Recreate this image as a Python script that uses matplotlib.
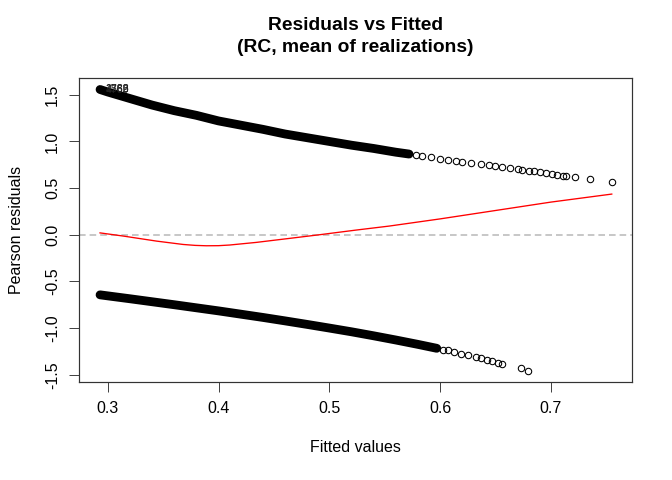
import numpy as np
import matplotlib.pyplot as plt

plt.rcParams['font.family'] = ['Liberation Sans', 'DejaVu Sans']

# upper branch (y = 1), dense run of points
upper_fit = [0.293, 0.30, 0.32, 0.34, 0.36, 0.38, 0.40, 0.42, 0.44, 0.46,
             0.48, 0.50, 0.52, 0.54, 0.56, 0.572]
upper_res = [1.557, 1.53, 1.46, 1.39, 1.33, 1.28, 1.22, 1.175, 1.13, 1.08,
             1.04, 1.00, 0.96, 0.925, 0.885, 0.865]
# upper branch, separate circles
upper_tail_fit = [0.578, 0.584, 0.592, 0.600, 0.607, 0.614, 0.620, 0.628, 0.637,
                  0.644, 0.650, 0.656, 0.663, 0.670, 0.674, 0.680, 0.685,
                  0.690, 0.696, 0.701, 0.706, 0.711, 0.714, 0.722, 0.735, 0.755]
upper_tail_res = [0.855, 0.845, 0.83, 0.815, 0.805, 0.79, 0.78, 0.77, 0.755,
                  0.745, 0.735, 0.725, 0.715, 0.70, 0.695, 0.685, 0.68,
                  0.67, 0.66, 0.655, 0.645, 0.635, 0.63, 0.62, 0.60, 0.57]

# lower branch (y = 0), dense run
lower_fit = [0.293, 0.30, 0.32, 0.34, 0.36, 0.38, 0.40, 0.42, 0.44, 0.46,
             0.48, 0.50, 0.52, 0.54, 0.56, 0.58, 0.597]
lower_res = [-0.644, -0.655, -0.686, -0.718, -0.75, -0.783, -0.816, -0.851,
             -0.886, -0.923, -0.961, -1.00, -1.04, -1.083, -1.128, -1.175, -1.217]
# lower branch, separate circles
lower_tail_fit = [0.603, 0.607, 0.613, 0.619, 0.625, 0.632, 0.637, 0.642, 0.647,
                  0.652, 0.656, 0.673, 0.679]
lower_tail_res = [-1.23, -1.24, -1.26, -1.275, -1.29, -1.31, -1.325, -1.34, -1.355,
                  -1.37, -1.38, -1.43, -1.455]

# red smoother
smooth_fit = [0.293, 0.314, 0.344, 0.368, 0.379, 0.389, 0.400, 0.410, 0.434,
              0.464, 0.491, 0.524, 0.554, 0.60, 0.65, 0.70, 0.755]
smooth_res = [0.02, -0.014, -0.068, -0.104, -0.114, -0.118, -0.117, -0.11,
              -0.082, -0.039, 0.0, 0.05, 0.093, 0.17, 0.26, 0.35, 0.436]

# labelled extreme points
label_ids = ["1762", "4769", "2588"]
label_fit = [0.293, 0.293, 0.293]
label_res = [1.557, 1.556, 1.557]

fig = plt.figure(figsize=(7, 5), dpi=96)
ax = fig.add_axes([79 / 672, 1 - 381.7 / 480, 552.7 / 672, 303.4 / 480])

ax.axhline(0, color='#c8c8c8', lw=1.5, dashes=(3.3, 2), zorder=1)

for xs, ys in [(upper_fit, upper_res), (lower_fit, lower_res)]:
    ax.plot(xs, ys, color='black', lw=6.6, solid_capstyle='round',
            solid_joinstyle='round', zorder=2)
for xs, ys in [(upper_tail_fit, upper_tail_res), (lower_tail_fit, lower_tail_res)]:
    ax.plot(xs, ys, 'o', mfc='none', mec='black', ms=4.8, mew=0.8, zorder=2)

ax.plot(smooth_fit, smooth_res, color='red', lw=1.0, zorder=3)

for lab, xf, yr in zip(label_ids, label_fit, label_res):
    ax.annotate(lab, (xf, yr), xytext=(4, 0), textcoords='offset points',
                fontsize=8, va='center', ha='left', color='#222222')

ax.set_xlim(0.274, 0.773)
ax.set_ylim(-1.575, 1.677)

ax.set_xticks([0.3, 0.4, 0.5, 0.6, 0.7])
ax.set_xticklabels(["0.3", "0.4", "0.5", "0.6", "0.7"])
yt = [-1.5, -1.0, -0.5, 0.0, 0.5, 1.0, 1.5]
ax.set_yticks(yt)
ax.set_yticklabels(["-1.5", "-1.0", "-0.5", "0.0", "0.5", "1.0", "1.5"],
                   rotation=90, va='center')

ax.tick_params(direction='out', length=7.2, width=0.75, labelsize=12, pad=7,
               color='#444444')
for s in ax.spines.values():
    s.set_linewidth(0.9)
    s.set_color('#333333')

ax.set_xlabel("Fitted values", fontsize=12, labelpad=18)
ax.set_ylabel("Pearson residuals", fontsize=12, labelpad=16)
ax.set_title("Residuals vs Fitted\n(RC, mean of realizations)", fontsize=14.4,
             fontweight='bold', pad=20, linespacing=1.35)

fig.savefig('out.png', dpi=96)
